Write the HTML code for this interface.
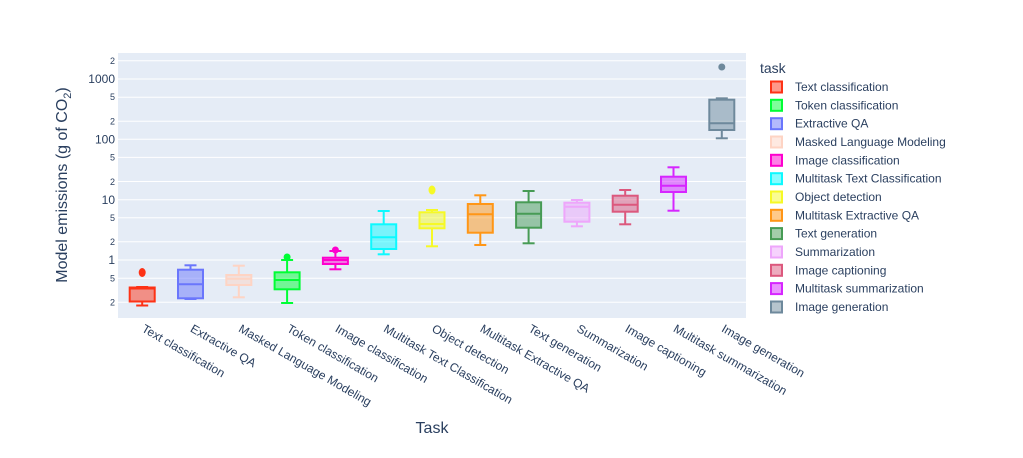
<!DOCTYPE html>
<html><head><style>
body{margin:0;background:#fff;}
svg text{font-family:"Liberation Sans",Arial,sans-serif;fill:#2a3f5f;}
</style></head><body>
<svg width="1023" height="453" xmlns="http://www.w3.org/2000/svg">
<rect x="118" y="53" width="628" height="265" fill="#e5ecf6"/>
<g stroke="#fff" stroke-width="1">
<line x1="118" x2="746" y1="60.8" y2="60.8"/><line x1="118" x2="746" y1="79" y2="79"/><line x1="118" x2="746" y1="97.2" y2="97.2"/>
<line x1="118" x2="746" y1="121.2" y2="121.2"/><line x1="118" x2="746" y1="139.3" y2="139.3"/><line x1="118" x2="746" y1="157.4" y2="157.4"/>
<line x1="118" x2="746" y1="181.5" y2="181.5"/><line x1="118" x2="746" y1="199.7" y2="199.7"/><line x1="118" x2="746" y1="217.8" y2="217.8"/>
<line x1="118" x2="746" y1="241.8" y2="241.8"/><line x1="118" x2="746" y1="260" y2="260"/><line x1="118" x2="746" y1="278.2" y2="278.2"/>
<line x1="118" x2="746" y1="302.2" y2="302.2"/>
</g>
<g font-size="12" text-anchor="end">
<text x="115" y="83">1000</text><text x="115" y="143.5">100</text><text x="115" y="204">10</text><text x="115" y="264">1</text>
</g>
<g font-size="9" text-anchor="end">
<text x="115" y="64">2</text><text x="115" y="100">5</text><text x="115" y="124.5">2</text><text x="115" y="160.5">5</text>
<text x="115" y="185">2</text><text x="115" y="221">5</text><text x="115" y="245">2</text><text x="115" y="281.5">5</text><text x="115" y="305.5">2</text>
</g>
<text transform="translate(67,185) rotate(-90)" font-size="16" text-anchor="middle">Model emissions (g of CO<tspan font-size="11" dy="4">2</tspan><tspan dy="-4">)</tspan></text>
<text x="432" y="433" font-size="16" text-anchor="middle">Task</text>

<g stroke-width="2" fill="none">
<g stroke="#FD3216"><rect x="129.7" y="287.5" width="25" height="14" fill="#FD3216" fill-opacity="0.5"/><line x1="129.7" x2="154.7" y1="288.5" y2="288.5"/><line x1="142.2" x2="142.2" y1="301.5" y2="305.5"/><line x1="136.2" x2="148.2" y1="287" y2="287"/><line x1="136.2" x2="148.2" y1="305.5" y2="305.5"/><ellipse cx="142.2" cy="272.5" rx="3.5" ry="4.5" fill="#FD3216" stroke="none"/></g>
<g stroke="#6A76FC"><rect x="178" y="269.7" width="25" height="28.6" fill="#6A76FC" fill-opacity="0.5"/><line x1="178" x2="203" y1="284.3" y2="284.3"/><line x1="190.5" x2="190.5" y1="265.3" y2="269.7"/><line x1="190.5" x2="190.5" y1="298.3" y2="299"/><line x1="184.5" x2="196.5" y1="265.3" y2="265.3"/><line x1="184.5" x2="196.5" y1="299" y2="299"/></g>
<g stroke="#FED4C4"><rect x="226.3" y="275" width="25" height="10" fill="#FED4C4" fill-opacity="0.5"/><line x1="226.3" x2="251.3" y1="278.7" y2="278.7"/><line x1="238.8" x2="238.8" y1="265.7" y2="275"/><line x1="238.8" x2="238.8" y1="285" y2="297.3"/><line x1="232.8" x2="244.8" y1="265.7" y2="265.7"/><line x1="232.8" x2="244.8" y1="297.3" y2="297.3"/></g>
<g stroke="#00FE35"><rect x="274.6" y="272.3" width="25" height="17" fill="#00FE35" fill-opacity="0.5"/><line x1="274.6" x2="299.6" y1="280" y2="280"/><line x1="287.1" x2="287.1" y1="260" y2="272.3"/><line x1="287.1" x2="287.1" y1="289.3" y2="303"/><line x1="281.1" x2="293.1" y1="260" y2="260"/><line x1="281.1" x2="293.1" y1="303" y2="303"/><circle cx="287.1" cy="257" r="3.5" fill="#00FE35" stroke="none"/></g>
<g stroke="#FE00CE"><rect x="322.9" y="257.7" width="25" height="6.3" fill="#FE00CE" fill-opacity="0.5"/><line x1="322.9" x2="347.9" y1="260" y2="260"/><line x1="335.4" x2="335.4" y1="251" y2="257.7"/><line x1="335.4" x2="335.4" y1="264" y2="269.3"/><line x1="329.4" x2="341.4" y1="251" y2="251"/><line x1="329.4" x2="341.4" y1="269.3" y2="269.3"/><circle cx="335.4" cy="250" r="3.5" fill="#FE00CE" stroke="none"/></g>
<g stroke="#0DF9FF"><rect x="371.2" y="224.3" width="25" height="24.7" fill="#0DF9FF" fill-opacity="0.5"/><line x1="371.2" x2="396.2" y1="237.3" y2="237.3"/><line x1="383.7" x2="383.7" y1="211" y2="224.3"/><line x1="383.7" x2="383.7" y1="249" y2="254.3"/><line x1="377.7" x2="389.7" y1="211" y2="211"/><line x1="377.7" x2="389.7" y1="254.3" y2="254.3"/></g>
<g stroke="#F6F926"><rect x="419.5" y="212.3" width="25" height="16" fill="#F6F926" fill-opacity="0.5"/><line x1="419.5" x2="444.5" y1="224" y2="224"/><line x1="432" x2="432" y1="210" y2="212.3"/><line x1="432" x2="432" y1="228.3" y2="246.3"/><line x1="426" x2="438" y1="210" y2="210"/><line x1="426" x2="438" y1="246.3" y2="246.3"/><ellipse cx="432" cy="190" rx="3.5" ry="4.5" fill="#F6F926" stroke="none"/></g>
<g stroke="#FF9616"><rect x="467.8" y="204" width="25" height="28.7" fill="#FF9616" fill-opacity="0.5"/><line x1="467.8" x2="492.8" y1="214.3" y2="214.3"/><line x1="480.3" x2="480.3" y1="195.3" y2="204"/><line x1="480.3" x2="480.3" y1="232.7" y2="245"/><line x1="474.3" x2="486.3" y1="195.3" y2="195.3"/><line x1="474.3" x2="486.3" y1="245" y2="245"/></g>
<g stroke="#479B55"><rect x="516.1" y="202.3" width="25" height="25.4" fill="#479B55" fill-opacity="0.5"/><line x1="516.1" x2="541.1" y1="213.7" y2="213.7"/><line x1="528.6" x2="528.6" y1="191" y2="202.3"/><line x1="528.6" x2="528.6" y1="227.7" y2="243.3"/><line x1="522.6" x2="534.6" y1="191" y2="191"/><line x1="522.6" x2="534.6" y1="243.3" y2="243.3"/></g>
<g stroke="#EEA6FB"><rect x="564.4" y="202.7" width="25" height="19" fill="#EEA6FB" fill-opacity="0.5"/><line x1="564.4" x2="589.4" y1="206.7" y2="206.7"/><line x1="576.9" x2="576.9" y1="200" y2="202.7"/><line x1="576.9" x2="576.9" y1="221.7" y2="226.3"/><line x1="570.9" x2="582.9" y1="200" y2="200"/><line x1="570.9" x2="582.9" y1="226.3" y2="226.3"/></g>
<g stroke="#DC587D"><rect x="612.7" y="195.7" width="25" height="16" fill="#DC587D" fill-opacity="0.5"/><line x1="612.7" x2="637.7" y1="204.7" y2="204.7"/><line x1="625.2" x2="625.2" y1="190" y2="195.7"/><line x1="625.2" x2="625.2" y1="211.7" y2="224.3"/><line x1="619.2" x2="631.2" y1="190" y2="190"/><line x1="619.2" x2="631.2" y1="224.3" y2="224.3"/></g>
<g stroke="#D626FF"><rect x="661" y="176.7" width="25" height="15.3" fill="#D626FF" fill-opacity="0.5"/><line x1="661" x2="686" y1="185.7" y2="185.7"/><line x1="673.5" x2="673.5" y1="167.3" y2="176.7"/><line x1="673.5" x2="673.5" y1="192" y2="210.7"/><line x1="667.5" x2="679.5" y1="167.3" y2="167.3"/><line x1="667.5" x2="679.5" y1="210.7" y2="210.7"/></g>
<g stroke="#6E899C"><rect x="709.3" y="99.7" width="25" height="30.3" fill="#6E899C" fill-opacity="0.5"/><line x1="709.3" x2="734.3" y1="123.3" y2="123.3"/><line x1="721.8" x2="721.8" y1="130" y2="138.3"/><line x1="715.8" x2="727.8" y1="98.3" y2="98.3"/><line x1="715.8" x2="727.8" y1="138.3" y2="138.3"/><circle cx="721.8" cy="67" r="3.5" fill="#6E899C" stroke="none"/></g>
</g>

<g font-size="12">
<text transform="translate(141,331) rotate(30)">Text classification</text>
<text transform="translate(189.5,331) rotate(30)">Extractive QA</text>
<text transform="translate(237.8,331) rotate(30)">Masked Language Modeling</text>
<text transform="translate(286.1,331) rotate(30)">Token classification</text>
<text transform="translate(334.4,331) rotate(30)">Image classification</text>
<text transform="translate(382.7,331) rotate(30)">Multitask Text Classification</text>
<text transform="translate(431,331) rotate(30)">Object detection</text>
<text transform="translate(479.3,331) rotate(30)">Multitask Extractive QA</text>
<text transform="translate(527.6,331) rotate(30)">Text generation</text>
<text transform="translate(575.9,331) rotate(30)">Summarization</text>
<text transform="translate(624.2,331) rotate(30)">Image captioning</text>
<text transform="translate(672.5,331) rotate(30)">Multitask summarization</text>
<text transform="translate(720.8,331) rotate(30)">Image generation</text>
</g>

<text x="760" y="73" font-size="14">task</text>
<g stroke-width="2" fill-opacity="0.5">
<rect x="771" y="81.5" width="11" height="11" fill="#FD3216" stroke="#FD3216"/>
<rect x="771" y="99.8" width="11" height="11" fill="#00FE35" stroke="#00FE35"/>
<rect x="771" y="118.2" width="11" height="11" fill="#6A76FC" stroke="#6A76FC"/>
<rect x="771" y="136.5" width="11" height="11" fill="#FED4C4" stroke="#FED4C4"/>
<rect x="771" y="154.8" width="11" height="11" fill="#FE00CE" stroke="#FE00CE"/>
<rect x="771" y="173.2" width="11" height="11" fill="#0DF9FF" stroke="#0DF9FF"/>
<rect x="771" y="191.5" width="11" height="11" fill="#F6F926" stroke="#F6F926"/>
<rect x="771" y="209.8" width="11" height="11" fill="#FF9616" stroke="#FF9616"/>
<rect x="771" y="228.1" width="11" height="11" fill="#479B55" stroke="#479B55"/>
<rect x="771" y="246.5" width="11" height="11" fill="#EEA6FB" stroke="#EEA6FB"/>
<rect x="771" y="264.8" width="11" height="11" fill="#DC587D" stroke="#DC587D"/>
<rect x="771" y="283.1" width="11" height="11" fill="#D626FF" stroke="#D626FF"/>
<rect x="771" y="301.5" width="11" height="11" fill="#6E899C" stroke="#6E899C"/>
</g>
<g font-size="12">
<text x="795" y="91">Text classification</text>
<text x="795" y="109.3">Token classification</text>
<text x="795" y="127.7">Extractive QA</text>
<text x="795" y="146">Masked Language Modeling</text>
<text x="795" y="164.3">Image classification</text>
<text x="795" y="182.7">Multitask Text Classification</text>
<text x="795" y="201">Object detection</text>
<text x="795" y="219.3">Multitask Extractive QA</text>
<text x="795" y="237.6">Text generation</text>
<text x="795" y="256">Summarization</text>
<text x="795" y="274.3">Image captioning</text>
<text x="795" y="292.6">Multitask summarization</text>
<text x="795" y="311">Image generation</text>
</g>
</svg>
</body></html>
